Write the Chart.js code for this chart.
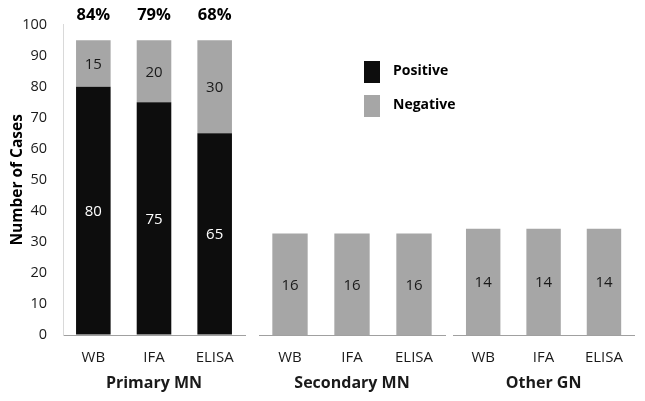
<!DOCTYPE html>
<html>
<head>
<meta charset="utf-8">
<script src="https://cdn.jsdelivr.net/npm/chart.js@4.4.0/dist/chart.umd.min.js"></script>
<style>
  body { margin: 0; background: #fff; }
  .box { position: absolute; top: 0; height: 401px; }
  #b1 { left: 0; width: 250px; }
  #b2 { left: 259px; width: 216px; }
  #b3 { left: 453px; width: 184px; }
</style>
</head>
<body>
<div class="box" id="b1"><canvas id="c1"></canvas></div>
<div class="box" id="b2"><canvas id="c2"></canvas></div>
<div class="box" id="b3"><canvas id="c3"></canvas></div>
<script>
const methods = ["WB", "IFA", "ELISA"];
const groups = ["Primary MN", "Secondary MN", "Other GN"];

// bar heights as drawn
const positive = [[80, 75, 65], [0, 0, 0], [0, 0, 0]];
const negative = [[15, 20, 30], [32, 32, 32], [33.5, 33.5, 33.5]];

// numbers printed in the bars
const posLabels = [["80", "75", "65"], ["", "", ""], ["", "", ""]];
const negLabels = [["15", "20", "30"], ["16", "16", "16"], ["14", "14", "14"]];
const percents = ["84%", "79%", "68%"];

const BLACK = "#0d0d0d";
const GRAY = "#a6a6a6";
const FONT = "'Open Sans', sans-serif";

Chart.defaults.font.family = FONT;
Chart.defaults.color = "#1a1a1a";

const barLabels = {
  id: "barLabels",
  afterDatasetsDraw(chart, args, opts) {
    const ctx = chart.ctx;
    ctx.save();
    ctx.font = "15px " + FONT;
    ctx.textAlign = "center";
    ctx.textBaseline = "middle";
    chart.data.datasets.forEach((ds, di) => {
      const meta = chart.getDatasetMeta(di);
      const texts = di === 0 ? opts.pos : opts.neg;
      meta.data.forEach((bar, i) => {
        if (!texts[i]) return;
        const p = bar.getCenterPoint();
        ctx.fillStyle = di === 0 ? "#ffffff" : "#1a1a1a";
        ctx.fillText(texts[i], p.x, p.y + 1);
      });
    });
    if (opts.pct) {
      ctx.font = "bold 16.5px " + FONT;
      ctx.fillStyle = "#000";
      const meta = chart.getDatasetMeta(1);
      meta.data.forEach((bar, i) => {
        ctx.fillText(opts.pct[i], bar.x, 15);
      });
    }
    ctx.restore();
  }
};

const sideLegend = {
  id: "sideLegend",
  afterDraw(chart, args, opts) {
    if (!opts.show) return;
    const ctx = chart.ctx;
    ctx.save();
    ctx.font = "bold 14px " + FONT;
    ctx.textAlign = "left";
    ctx.textBaseline = "middle";
    const rows = [61, 95];
    chart.data.datasets.forEach((ds, i) => {
      ctx.fillStyle = ds.backgroundColor;
      ctx.fillRect(105, rows[i], 16, 22);
      ctx.fillStyle = "#000";
      ctx.fillText(ds.label, 134, rows[i] + 10);
    });
    ctx.restore();
  }
};

function makeChart(id, g, padRight) {
  const first = g === 0;
  return new Chart(document.getElementById(id), {
    type: "bar",
    data: {
      labels: methods,
      datasets: [
        { label: "Positive", data: positive[g], backgroundColor: BLACK },
        { label: "Negative", data: negative[g], backgroundColor: GRAY }
      ]
    },
    plugins: [barLabels, sideLegend],
    options: {
      responsive: true,
      maintainAspectRatio: false,
      animation: false,
      datasets: { bar: { categoryPercentage: 1, barPercentage: 0.57 } },
      layout: { padding: { top: 18, right: padRight, left: 0, bottom: 0 } },
      plugins: {
        legend: { display: false },
        tooltip: { enabled: false },
        barLabels: { pos: posLabels[g], neg: negLabels[g], pct: first ? percents : null },
        sideLegend: { show: g === 1 }
      },
      scales: {
        x: {
          stacked: true,
          grid: { display: true, drawOnChartArea: false, drawTicks: false },
          border: { display: true, color: "#a0a0a0", width: 1 },
          ticks: { padding: 14, font: { size: 15 }, color: "#1a1a1a", maxRotation: 0, minRotation: 0, autoSkip: false },
          title: {
            display: true,
            text: groups[g],
            font: { size: 16, weight: "bold" },
            color: "#1a1a1a",
            padding: { top: 0, bottom: 8 }
          },
          afterFit: s => { s.height = 66; }
        },
        y: {
          stacked: true,
          display: first,
          min: 0,
          max: 100,
          grid: { display: true, drawOnChartArea: false, drawTicks: false },
          border: { display: true, color: "#d9d9d9", width: 1 },
          ticks: { stepSize: 10, padding: 16, font: { size: 14.5 }, color: "#1a1a1a" },
          title: {
            display: true,
            text: "Number of Cases",
            font: { size: 15.5, weight: "bold" },
            color: "#000",
            padding: { top: 8, bottom: 0 }
          },
          afterFit: s => { s.width = first ? 63 : 0; }
        }
      }
    }
  });
}

makeChart("c1", 0, 5);
makeChart("c2", 1, 30);
makeChart("c3", 2, 0);
</script>
</body>
</html>
